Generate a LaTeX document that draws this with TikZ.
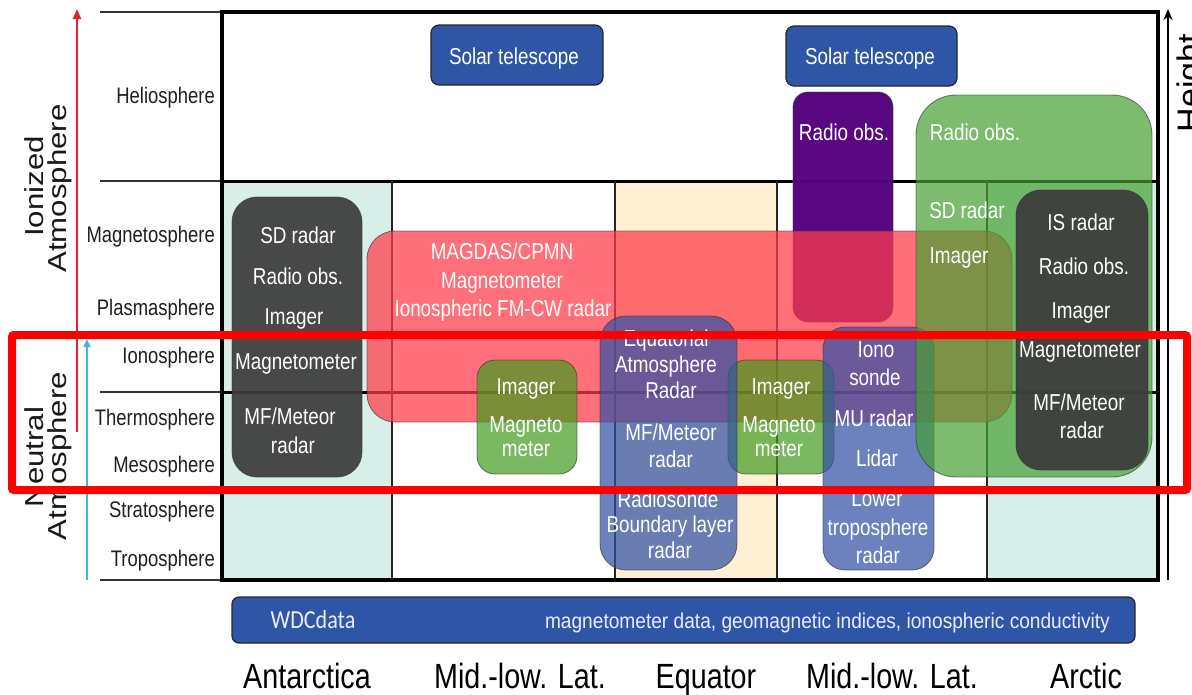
\documentclass[tikz,border=0pt]{standalone}
\usepackage{fontspec}
\setmainfont{Liberation Sans}[FakeStretch=0.82]
\newfontfamily\sidefont{Liberation Sans}[FakeStretch=1.2]
\newfontfamily\heightfont{Liberation Sans}
\newfontfamily\wdcfont{Carlito}[FakeStretch=0.85]
\newfontfamily\barfont{Liberation Sans}[FakeStretch=0.89]
\usetikzlibrary{arrows.meta}
\newcommand\setfs[1]{\fontsize{#1}{#1}\selectfont}
\definecolor{mintbg}{RGB}{216,239,233}
\definecolor{creambg}{RGB}{253,240,210}
\definecolor{boxdark}{RGB}{60,60,60}
\definecolor{boxpurple}{RGB}{85,0,126}
\definecolor{boxred}{RGB}{255,59,73}
\definecolor{boxgreen}{RGB}{66,155,31}
\definecolor{boxbiggreen}{RGB}{70,160,50}
\definecolor{boxblue}{RGB}{50,82,167}
\definecolor{solarblue}{RGB}{47,86,166}
\definecolor{arrowred}{RGB}{227,36,43}
\definecolor{arrowcyan}{RGB}{69,181,219}
\definecolor{annored}{RGB}{255,0,0}
\begin{document}
\begin{tikzpicture}[x=1pt,y=-1pt,
  dsc/.style={yshift=-3pt},
  lbl/.style={anchor=east,inner sep=0pt,font=\setfs{22.5},text=black!88,dsc},
  bt/.style={inner sep=0pt,font=\setfs{23},text=white},
  regionlbl/.style={anchor=base,inner sep=0pt,font=\setfs{35},text=black},
  sidelbl/.style={rotate=90,anchor=base,inner sep=0pt,font=\sidefont\setfs{26},text=black!90},
  gridthin/.style={line width=2pt,draw=black!80},
  gridthick/.style={line width=3pt,draw=black},
  colline/.style={line width=1.6pt,draw=black!85},
  boxedge/.style={draw=black!80,draw opacity=.6,line width=.9pt},
  darkbox/.style={boxedge,fill=boxdark,fill opacity=.93,rounded corners=25pt},
  purplebox/.style={boxedge,fill=boxpurple,fill opacity=.97,rounded corners=15pt},
  redbox/.style={boxedge,fill=boxred,fill opacity=.73,rounded corners=28pt},
  greenbox/.style={boxedge,fill=boxgreen,fill opacity=.7,rounded corners=18pt},
  biggreen/.style={boxedge,fill=boxbiggreen,fill opacity=.7,rounded corners=40pt},
  bluebox/.style={boxedge,fill=boxblue,fill opacity=.72,rounded corners=26pt},
  solarbox/.style={draw=black!85,line width=1.2pt,fill=solarblue,rounded corners=8pt}]
\useasboundingbox (0,0) rectangle (1192,694);
% column backgrounds
\fill[mintbg] (222,181) rectangle (392,580);
\fill[creambg] (615,181) rectangle (777,580);
\fill[mintbg] (987,181) rectangle (1158,580);
% grid
\draw[gridthin] (100,12) -- (222,12);
\draw[gridthin] (100,181) -- (222,181);
\draw[gridthin] (100,392) -- (222,392);
\draw[gridthin] (100,580) -- (222,580);
\draw[gridthick] (222,181) -- (1158,181);
\draw[gridthick] (222,392) -- (1158,392);
\foreach \x in {392,615,777,987} \draw[colline] (\x,181) -- (\x,580);
\draw[line width=3.5pt] (222,12) rectangle (1158,580);
% axis arrows
\coordinate (hbot) at (1168,580);
\coordinate (htop) at (1168,9);
\coordinate (rbot) at (77,432);
\coordinate (rtop) at (77,9);
\coordinate (cbot) at (87,580);
\coordinate (ctop) at (87,339);
\draw[line width=2pt,-{Stealth[length=11pt,width=9pt]}] (hbot) -- (htop);
\draw[line width=2pt,draw=arrowred,-{Triangle[length=10pt,width=8pt]}] (rbot) -- (rtop);
\draw[line width=2pt,draw=arrowcyan,-{Triangle[length=8pt,width=7pt]}] (cbot) -- (ctop);
% boxes
\path[darkbox] (232,197) rectangle (362,477);
\path[purplebox] (793,92) rectangle (893,322);
\path[redbox] (367,231) rectangle (1012,422);
\path[greenbox] (477,360) rectangle (577,474);
\path[greenbox] (728,360) rectangle (834,474);
\path[bluebox] (600,316) rectangle (737,570);
\path[bluebox,rounded corners=22pt] (823,327) rectangle (934,570);
\path[biggreen] (916,95) rectangle (1152,477);
\path[darkbox] (1016,190) rectangle (1148,470);
\path[solarbox] (431,25) rectangle (603,85);
\path[solarbox] (786,26) rectangle (957,86);
\path[solarbox,rounded corners=7pt] (232,597) rectangle (1135,643);
% layer labels
\node[lbl] (l1) at (215,95) {Heliosphere};
\node[lbl] (l2) at (215,234) {Magnetosphere};
\node[lbl] (l3) at (215,307) {Plasmasphere};
\node[lbl] (l4) at (215,355) {Ionosphere};
\node[lbl] (l5) at (215,417) {Thermosphere};
\node[lbl] (l6) at (215,464) {Mesosphere};
\node[lbl] (l7) at (215,509) {Stratosphere};
\node[lbl] (l8) at (215,558) {Troposphere};
% side labels
\node[sidelbl] (s1) at (43,186.5) {Ionized};
\node[sidelbl] (s2) at (66,188.5) {Atmosphere};
\node[sidelbl] (s3) at (43,457) {Neutral};
\node[sidelbl] (s4) at (66,456) {Atmosphere};
\node[rotate=90,anchor=north,inner sep=0pt,font=\heightfont\setfs{34}] (ht) at (1177,83) {Height};
% Antarctica box
\node[bt] (a1) at (298,235) {SD radar};
\node[bt] (a2) at (298,276) {Radio obs.};
\node[bt,dsc] (a3) at (294,316) {Imager};
\node[bt,dsc] (a4) at (296,361) {Magnetometer};
\node[bt] (a5) at (290,416) {MF/Meteor};
\node[bt] (a6) at (293,445) {radar};
% MAGDAS
\node[bt] (m1) at (502,251) {MAGDAS/CPMN};
\node[bt,dsc] (m2) at (502,280) {Magnetometer};
\node[bt,dsc] (m3) at (503,308) {Ionospheric FM-CW radar};
% left green
\node[bt,dsc] (g1) at (526,386) {Imager};
\node[bt,dsc] (g2) at (526,424) {Magneto};
\node[bt] (g3) at (526,449) {meter};
% equatorial
\node[bt,dsc] (e1) at (666,338) {Equatorial};
\node[bt,dsc] (e2) at (666,364) {Atmosphere};
\node[bt] (e3) at (671,390) {Radar};
\node[bt] (e4) at (671,432) {MF/Meteor};
\node[bt] (e5) at (671,459) {radar};
\node[bt] (e6) at (668,499) {Radiosonde};
\node[bt,dsc] (e7) at (670,524) {Boundary layer};
\node[bt] (e8) at (670,550) {radar};
% right green
\node[bt,dsc] (h1) at (781,386) {Imager};
\node[bt,dsc] (h2) at (779,424) {Magneto};
\node[bt] (h3) at (779,449) {meter};
% iono
\node[bt] (i1) at (876,350) {Iono};
\node[bt] (i2) at (875,377) {sonde};
\node[bt] (i3) at (874,418) {MU radar};
\node[bt] (i4) at (877,458) {Lidar};
\node[bt] (i5) at (877,499) {Lower};
\node[bt,dsc] (i6) at (878,527) {troposphere};
\node[bt] (i7) at (878,555) {radar};
% purple / green / arctic
\node[bt] (p1) at (844,132) {Radio obs.};
\node[bt] (q1) at (975,132) {Radio obs.};
\node[bt] (q2) at (967,210) {SD radar};
\node[bt,dsc] (q3) at (959,255) {Imager};
\node[bt] (r1) at (1081,222) {IS radar};
\node[bt] (r2) at (1084,266) {Radio obs.};
\node[bt,dsc] (r3) at (1081,310) {Imager};
\node[bt,dsc] (r4) at (1080,349) {Magnetometer};
\node[bt] (r5) at (1079,402) {MF/Meteor};
\node[bt] (r6) at (1082,430) {radar};
% solar telescopes
\node[bt,dsc] (st1) at (514,56) {Solar telescope};
\node[bt,dsc] (st2) at (870,56) {Solar telescope};
% WDC bar
\node[inner sep=0pt,font=\wdcfont\setfs{26},text=white!92!blue] (w1) at (313,620) {WDCdata};
\node[inner sep=0pt,anchor=east,font=\barfont\setfs{21.5},text=white!92!blue,dsc] (w2) at (1110,620) {magnetometer data, geomagnetic indices, ionospheric conductivity};
% region labels
\node[regionlbl] (b1) at (307,688) {Antarctica};
\node[regionlbl] (b2) at (520,688) {Mid.-low. Lat.};
\node[regionlbl] (b3) at (706,688) {Equator};
\node[regionlbl] (b4) at (892,688) {Mid.-low. Lat.};
\node[regionlbl] (b5) at (1086,688) {Arctic};
% annotation rectangle
\draw[draw=annored,line width=8pt,rounded corners=2pt] (12,335) rectangle (1187,490);
\end{tikzpicture}
\end{document}
